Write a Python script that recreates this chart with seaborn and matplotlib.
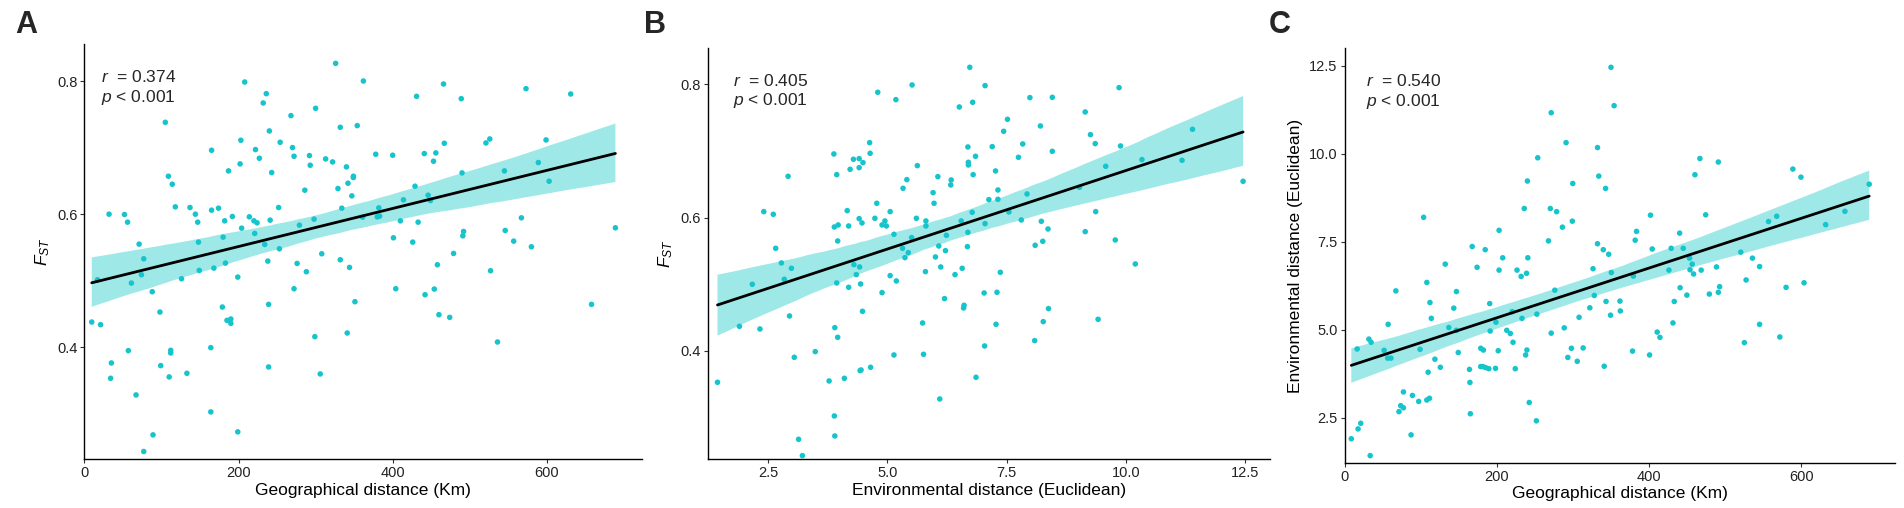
import numpy as np
import pandas as pd
import matplotlib
matplotlib.use("Agg")
import matplotlib.pyplot as plt
import seaborn as sns

# ---------------- data ----------------
# Panel A: geographical distance (Km) vs FST
a_geo = [9.5, 21, 17, 32, 35, 34, 52, 56, 71, 77, 74, 61, 57, 67, 77, 89, 88, 98, 99, 105,
         109, 114, 118, 112, 112, 110, 126, 133, 137, 144, 147, 148, 149, 165, 165, 174, 168, 164, 164, 179,
         180, 182, 183, 187, 185, 190, 190, 192, 199, 199, 203, 202, 204, 208, 214, 220, 224, 221, 222, 227,
         232, 236, 240, 243, 241, 234, 238, 239, 239, 253, 252, 254, 268, 270, 272, 272, 276, 279, 286, 288,
         292, 293, 298, 300, 299, 308, 306, 313, 322, 326, 329, 332, 334, 332, 340, 342, 344, 341, 347, 349,
         349, 354, 351, 362, 361, 378, 382, 380, 383, 400, 401, 404, 410, 414, 426, 429, 431, 433, 441, 442,
         446, 449, 453, 454, 456, 458, 460, 466, 467, 474, 479, 489, 490, 492, 491, 521, 526, 527, 536, 545,
         546, 557, 567, 573, 580, 589, 599, 603, 631, 658, 689]
a_fst = [0.438, 0.434, 0.5015, 0.600, 0.3765, 0.3535, 0.5995, 0.588, 0.555, 0.533, 0.509, 0.4965, 0.395, 0.3285, 0.2435, 0.2685, 0.4835, 0.453, 0.3725, 0.738,
         0.657, 0.645, 0.611, 0.3955, 0.3915, 0.3555, 0.503, 0.361, 0.610, 0.600, 0.588, 0.558, 0.5155, 0.696, 0.606, 0.609, 0.519, 0.3995, 0.303, 0.4605,
         0.5655, 0.590, 0.5265, 0.665, 0.4405, 0.4425, 0.436, 0.5965, 0.5055, 0.273, 0.711, 0.6755, 0.579, 0.7985, 0.596, 0.590, 0.587, 0.571, 0.697, 0.684,
         0.767, 0.781, 0.725, 0.6625, 0.591, 0.5545, 0.5295, 0.4645, 0.3705, 0.548, 0.610, 0.708, 0.748, 0.700, 0.687, 0.488, 0.526, 0.5835, 0.636, 0.5135,
         0.688, 0.6735, 0.5925, 0.759, 0.416, 0.5405, 0.360, 0.683, 0.6785, 0.8265, 0.6385, 0.7305, 0.609, 0.5315, 0.671, 0.6465, 0.520, 0.4215, 0.6275, 0.657,
         0.655, 0.733, 0.4685, 0.800, 0.5955, 0.690, 0.6095, 0.596, 0.597, 0.6885, 0.5645, 0.488, 0.590, 0.6215, 0.558, 0.642, 0.777, 0.588, 0.691, 0.479,
         0.6285, 0.6205, 0.6795, 0.4875, 0.692, 0.524, 0.449, 0.7955, 0.7065, 0.445, 0.541, 0.7735, 0.662, 0.574, 0.5675, 0.707, 0.713, 0.515, 0.408, 0.665,
         0.5755, 0.5595, 0.5945, 0.7885, 0.551, 0.6775, 0.7115, 0.6495, 0.7805, 0.4645, 0.5795]

# Panel B: environmental distance (Euclidean) vs FST
b_env = [1.44, 1.90, 2.17, 2.33, 2.41, 2.61, 2.66, 2.78, 2.84, 2.92, 2.95, 2.99, 3.05, 3.14, 3.22, 3.49, 3.78, 3.88, 3.89, 3.90,
         3.89, 3.90, 3.94, 3.94, 3.96, 3.97, 3.96, 4.10, 4.16, 4.19, 4.19, 4.22, 4.29, 4.30, 4.35, 4.41, 4.41, 4.41, 4.42, 4.44,
         4.47, 4.48, 4.43, 4.45, 4.49, 4.63, 4.64, 4.65, 4.74, 4.78, 4.80, 4.89, 4.89, 4.95, 4.98, 5.06, 5.06, 5.14, 5.14, 5.19,
         5.18, 5.33, 5.32, 5.37, 5.41, 5.44, 5.51, 5.52, 5.61, 5.63, 5.74, 5.76, 5.80, 5.81, 5.81, 5.96, 5.98, 6.01, 6.06, 6.08,
         6.10, 6.12, 6.20, 6.22, 6.24, 6.33, 6.34, 6.42, 6.51, 6.55, 6.57, 6.60, 6.61, 6.68, 6.69, 6.69, 6.70, 6.70, 6.73, 6.78,
         6.79, 6.80, 6.85, 6.86, 7.03, 7.04, 7.05, 7.05, 7.13, 7.20, 7.27, 7.28, 7.30, 7.32, 7.32, 7.37, 7.44, 7.52, 7.55, 7.75,
         7.81, 7.84, 7.93, 7.99, 8.09, 8.10, 8.21, 8.23, 8.26, 8.27, 8.37, 8.38, 8.46, 8.46, 9.03, 9.15, 9.15, 9.26, 9.36, 9.37,
         9.42, 9.58, 9.78, 9.86, 9.89, 10.20, 10.34, 11.18, 11.40, 12.46]
b_fst = [0.353, 0.437, 0.500, 0.433, 0.609, 0.605, 0.554, 0.532, 0.5075, 0.662, 0.4525, 0.524, 0.3905, 0.2675, 0.243, 0.399, 0.355, 0.6955, 0.586, 0.435,
         0.3025, 0.2725, 0.6645, 0.502, 0.565, 0.589, 0.4205, 0.359, 0.6105, 0.5875, 0.4955, 0.6725, 0.6875, 0.5295, 0.5145, 0.6885, 0.675, 0.5985, 0.526, 0.5005,
         0.592, 0.4595, 0.3705, 0.3715, 0.6825, 0.7125, 0.6965, 0.3755, 0.599, 0.6215, 0.788, 0.589, 0.4875, 0.595, 0.5875, 0.609, 0.513, 0.575, 0.394, 0.505,
         0.777, 0.644, 0.554, 0.540, 0.657, 0.5475, 0.570, 0.799, 0.599, 0.678, 0.442, 0.395, 0.519, 0.595, 0.5875, 0.6375, 0.6215, 0.541, 0.6615, 0.5575,
         0.328, 0.526, 0.4785, 0.5505, 0.5735, 0.649, 0.6565, 0.5145, 0.766, 0.595, 0.524, 0.4645, 0.4685, 0.5565, 0.578, 0.706, 0.683, 0.679, 0.8255, 0.608,
         0.773, 0.6645, 0.692, 0.3605, 0.487, 0.4075, 0.798, 0.591, 0.627, 0.7065, 0.670, 0.440, 0.488, 0.6415, 0.6275, 0.518, 0.7295, 0.7475, 0.6085, 0.6905,
         0.5965, 0.7105, 0.6355, 0.780, 0.4155, 0.5585, 0.7375, 0.5945, 0.5645, 0.444, 0.583, 0.4635, 0.6995, 0.7805, 0.6455, 0.7585, 0.579, 0.7245, 0.711, 0.609,
         0.4475, 0.677, 0.5665, 0.795, 0.7075, 0.5305, 0.687, 0.686, 0.7325, 0.6545]

# Panel C: geographical distance (Km) vs environmental distance (Euclidean)
c_geo = [8.8, 16.5, 17.7, 21.2, 31.9, 34.8, 33.6, 51.9, 57.2, 56.6, 60.8, 67.3, 71.4, 73.7, 77.3, 77.3, 87.3, 89.1, 97.3, 99.1,
         103.8, 108, 111.5, 108, 109.7, 112.1, 113.9, 118.6, 125.7, 132.2, 136.9, 143.4, 146.9, 146.9, 149.3, 164, 164.6, 165.2, 167.6, 174,
         178.8, 182.3, 178.8, 181.7, 185.3, 189.4, 184.7, 190.6, 191.2, 198.2, 198.8, 201.8, 202.9, 202.9, 207.7, 213, 217.7, 220.1, 221.2, 224.2,
         226.5, 231.9, 233, 236, 237.8, 239, 239.5, 240.1, 240.7, 242.5, 252.5, 251.9, 253.7, 267.8, 270.2, 271.4, 271.4, 276.1, 278.5, 286.1,
         288.5, 290.9, 293.2, 297.9, 299.1, 299.7, 305.6, 308, 313.3, 322.1, 326.3, 328.0, 332.2, 332.2, 333.9, 339.8, 341, 342.8, 343.4, 346.9,
         349.3, 349.9, 350.4, 354, 361.7, 362.2, 378.2, 379.3, 381.7, 383.5, 400.6, 401.8, 404.1, 410.6, 414.2, 426, 429, 431.3, 433, 440.1,
         440.7, 444.8, 449.6, 453.1, 453.7, 456.6, 458.4, 460.2, 466.7, 468.4, 474.3, 479.1, 488.5, 490.9, 490.9, 492.6, 520.4, 525.1, 527.4, 535.7,
         545.1, 545.1, 556.9, 567.6, 571.7, 579.9, 588.8, 599.4, 603.5, 631.9, 657.2, 689.1]
c_env = [1.91, 4.46, 2.19, 2.35, 4.74, 4.65, 1.43, 4.42, 5.16, 4.20, 4.20, 6.11, 2.68, 2.85, 2.79, 3.24, 2.02, 3.14, 2.97, 4.45,
         8.20, 3.01, 3.06, 6.35, 3.80, 5.78, 5.33, 4.17, 3.94, 6.87, 5.07, 5.62, 6.09, 4.99, 4.36, 3.88, 3.51, 2.62, 7.37, 6.78,
         4.48, 4.43, 3.96, 3.96, 3.93, 3.90, 7.28, 5.75, 4.97, 3.91, 5.22, 4.41, 7.83, 6.70, 7.05, 4.99, 4.90, 5.52, 4.65, 3.90,
         6.70, 6.52, 5.33, 8.45, 4.29, 6.61, 4.43, 9.23, 7.05, 2.94, 5.45, 2.42, 9.89, 7.53, 8.45, 11.17, 4.91, 6.13, 8.36, 7.92,
         5.06, 10.32, 4.22, 4.48, 8.09, 9.16, 4.11, 5.36, 4.49, 5.63, 6.74, 5.98, 10.18, 7.45, 9.37, 7.28, 3.97, 9.02, 5.81, 7.15,
         5.42, 12.46, 6.63, 11.37, 5.82, 5.54, 4.40, 6.53, 7.55, 7.80, 4.29, 8.26, 7.30, 4.94, 4.79, 6.70, 7.32, 5.20, 5.81, 7.75,
         6.20, 7.32, 5.99, 7.04, 6.71, 6.87, 6.59, 9.41, 9.87, 6.70, 8.27, 6.02, 6.79, 9.77, 6.07, 6.23, 7.21, 4.64, 6.42, 7.04,
         5.16, 6.80, 8.08, 8.23, 4.80, 6.21, 9.57, 9.34, 6.34, 7.99, 8.37, 9.14]

panel_letters = ["A", "B", "C"]
r_labels = ["0.374", "0.405", "0.540"]
p_label = "0.001"
x_labels = ["Geographical distance (Km)", "Environmental distance (Euclidean)", "Geographical distance (Km)"]
y_labels = [r"$F_{ST}$", r"$F_{ST}$", "Environmental distance (Euclidean)"]

# ---------------- style ----------------
sns.set_style("ticks")
plt.rcParams["font.family"] = ["Liberation Sans", "DejaVu Sans"]
plt.rcParams["mathtext.fontset"] = "custom"
plt.rcParams["mathtext.rm"] = "Liberation Sans"
plt.rcParams["mathtext.it"] = "Liberation Sans:italic"
plt.rcParams["mathtext.bf"] = "Liberation Sans:bold"

POINT = "#16C4CC"
BAND = "#9EE8E8"

fig = plt.figure(figsize=(19.04, 5.08), dpi=100)

positions = [
    [0.04433, 0.09587, 0.29265, 0.81752],
    [0.37195, 0.09587, 0.29496, 0.80906],
    [0.70620, 0.08917, 0.28908, 0.81575],
]
xlims = [(0, 723), (1.245, 13.02), (0, 723)]
ylims = [(0.2318, 0.8556), (0.2375, 0.854), (1.23, 13.0)]
xticks = [[0, 200, 400, 600], [2.5, 5.0, 7.5, 10.0, 12.5], [0, 200, 400, 600]]
yticks = [[0.4, 0.6, 0.8], [0.4, 0.6, 0.8], [2.5, 5.0, 7.5, 10.0, 12.5]]
xfmt = ["{:.0f}", "{:.1f}", "{:.0f}"]
yfmt = ["{:.1f}", "{:.1f}", "{:.1f}"]
text_x = [0.030, 0.045, 0.038]
letter_x = [26.6, 655, 1280]

datasets = [
    pd.DataFrame({"x": a_geo, "y": a_fst}),
    pd.DataFrame({"x": b_env, "y": b_fst}),
    pd.DataFrame({"x": c_geo, "y": c_env}),
]

for i, df in enumerate(datasets):
    ax = fig.add_axes(positions[i])
    sns.regplot(data=df, x="x", y="y", ax=ax, scatter=False, ci=95, seed=0,
                color=BAND, line_kws=dict(color="black", lw=2.0, zorder=4))
    for coll in ax.collections:
        coll.set_facecolor(BAND)
        coll.set_edgecolor("none")
        coll.set_alpha(1.0)
        coll.set_zorder(1)
    sns.scatterplot(data=df, x="x", y="y", ax=ax, color=POINT, s=16,
                    edgecolor="none", linewidth=0, zorder=3)
    ax.set_xlim(*xlims[i])
    ax.set_ylim(*ylims[i])
    ax.set_xticks(xticks[i])
    ax.set_xticklabels([xfmt[i].format(v) for v in xticks[i]])
    ax.set_yticks(yticks[i])
    ax.set_yticklabels([yfmt[i].format(v) for v in yticks[i]])
    ax.set_xlabel(x_labels[i], fontsize=12.5, color="black", labelpad=2)
    ax.set_ylabel(y_labels[i], fontsize=12.5, color="black", labelpad=4)
    for side in ["top", "right"]:
        ax.spines[side].set_visible(False)
    for side in ["left", "bottom"]:
        ax.spines[side].set_color("black")
        ax.spines[side].set_linewidth(1.0)
    ax.tick_params(axis="both", labelsize=10.5, length=3, width=0.8,
                   color="#333333", labelcolor="#222222", pad=2)
    ax.text(text_x[i], 0.92, r"$\it{r}$  = " + r_labels[i], transform=ax.transAxes,
            fontsize=12.5, ha="left", va="center")
    ax.text(text_x[i], 0.872, r"$\it{p}$ < " + p_label, transform=ax.transAxes,
            fontsize=12.5, ha="left", va="center")
    fig.text(letter_x[i] / 1904, 1 - 25 / 508, panel_letters[i], fontsize=22,
             fontweight="bold", ha="center", va="center")

fig.savefig("out.png", dpi=100)
